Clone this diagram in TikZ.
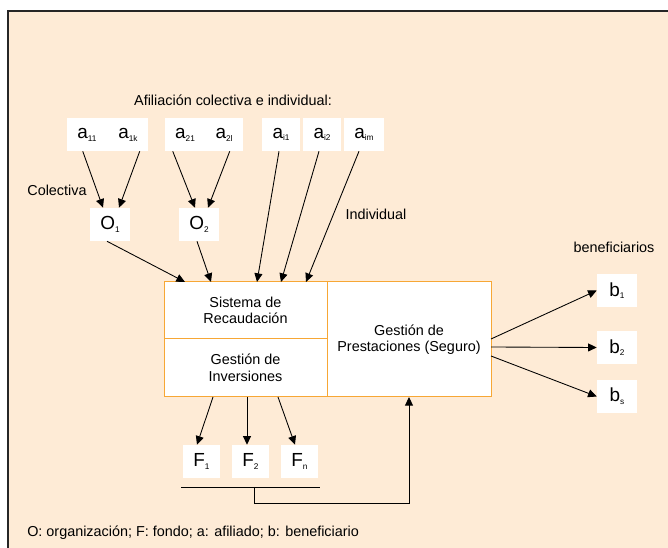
\documentclass[tikz,border=0pt]{standalone}
\usepackage{fontspec}
\setmainfont{Liberation Sans}
\usetikzlibrary{arrows.meta,calc}
\definecolor{bgpeach}{HTML}{FEEBD6}
\definecolor{boxorange}{HTML}{F7A735}
\newcommand\vlab[2]{{\fontsize{14.2}{15}\selectfont #1}\raisebox{-2pt}{\fontsize{6.2}{7}\selectfont #2}}
\begin{document}
\begin{tikzpicture}[x=0.75pt,y=-0.75pt,
  lbl/.style={fill=white,inner sep=0pt,minimum height=24.75pt},
  plain/.style={inner sep=0pt},
  conn/.style={draw=black,line width=0.65pt,-{Triangle[length=6.5pt,width=6pt]}},
  wire/.style={draw=black,line width=0.65pt},
  part/.style={draw=boxorange,fill=white,line width=0.75pt,inner sep=0pt,outer sep=0pt,align=center,font=\fontsize{10.8}{12.4}\selectfont},
  txt/.style={inner sep=0pt,font=\fontsize{10.8}{12.4}\selectfont}]
\useasboundingbox (0,0) rectangle (668,548);
\fill[bgpeach] (8,11) rectangle (668,548);
\draw[line width=1.5pt,black!85] (8,548) -- (8,11) -- (668,11);

% title and labels
\node[txt] (title) at (233,100) {Afiliación colectiva e individual:};
\node[txt] (colectiva) at (57,190) {Colectiva};
\node[txt] (individual) at (376,214) {Individual};
\node[txt] (benef) at (614,247) {beneficiarios};
\node[txt,anchor=west] (footer) at (27,533) {O: organización; F: fondo; a: afiliado; b: beneficiario};

% affiliates
\node[lbl,minimum width=60.75pt] (g1) at (107.5,134.5) {};
\node[plain] (a11) at (87,135) {\vlab{a}{11}};
\node[plain] (a1k) at (128,135) {\vlab{a}{1k}};
\node[lbl,minimum width=58.5pt] (g2) at (204,134.5) {};
\node[plain] (a21) at (185,135) {\vlab{a}{21}};
\node[plain] (a2l) at (224,135) {\vlab{a}{2l}};
\node[lbl,minimum width=28.5pt] (ai1) at (281,134.5) {\vlab{a}{i1}};
\node[lbl,minimum width=28.5pt] (ai2) at (322,134.5) {\vlab{a}{i2}};
\node[lbl,minimum width=30pt] (aim) at (364,134.5) {\vlab{a}{im}};

% organisations
\node[lbl,minimum width=30pt] (O1) at (110,224.5) {\vlab{O}{1}};
\node[lbl,minimum width=30pt] (O2) at (199,224.5) {\vlab{O}{2}};

% central block
\node[part,minimum width=122.25pt,minimum height=42.75pt] (sr) at (245.5,310.5) {Sistema de\\Recaudación};
\node[part,minimum width=122.25pt,minimum height=43.5pt] (gi) at (245.5,368) {Gestión de\\Inversiones};
\node[part,minimum width=123pt,minimum height=86.25pt] (gp) at (409,339.5) {Gestión de\\Prestaciones (Seguro)};

% funds
\node[lbl,minimum width=27.75pt] (F1) at (201.5,461.5) {\vlab{F}{1}};
\node[lbl,minimum width=27.75pt] (F2) at (250.5,461.5) {\vlab{F}{2}};
\node[lbl,minimum width=27.75pt] (Fn) at (299.5,461.5) {\vlab{F}{n}};

% beneficiaries
\node[lbl,minimum width=30pt] (b1) at (617,290.5) {\vlab{b}{1}};
\node[lbl,minimum width=30pt] (b2) at (617,347.5) {\vlab{b}{2}};
\node[lbl,minimum width=30pt] (bs) at (617,396.5) {\vlab{b}{s}};

% collective affiliation arrows
\draw[conn] ($(g1.south west)+(16,0)$) -- ($(O1.north)+(-7,0)$);
\draw[conn] ($(g1.south west)+(73,0)$) -- ($(O1.north)+(9,0)$);
\draw[conn] ($(g2.south west)+(8,0)$) -- ($(O2.north)+(-4,0)$);
\draw[conn] ($(g2.south west)+(65,0)$) -- ($(O2.north)+(9,0)$);

% into the collection system
\draw[conn] ($(O1.south)+(-3,0)$) -- ($(sr.north west)+(21,0)$);
\draw[conn] ($(O2.south)+(-2,0)$) -- ($(sr.north west)+(47,0)$);
\draw[conn] ($(ai1.south)+(-2,0)$) -- ($(sr.north west)+(93,0)$);
\draw[conn] ($(ai2.south)+(-3,0)$) -- ($(sr.north west)+(117,0)$);
\draw[conn] ($(aim.south)+(-5,0)$) -- ($(sr.north west)+(142,0)$);

% to funds
\draw[conn] ($(gi.south west)+(49,0)$) -- ($(F1.north)+(-4.5,0)$);
\draw[conn] ($(gi.south west)+(83,0)$) -- ($(F2.north)+(-3.5,0)$);
\draw[conn] ($(gi.south west)+(114,0)$) -- ($(Fn.north)+(-4.5,0)$);

% funds back to benefits
\coordinate (fl) at (181,487);
\coordinate (fr) at (320,487);
\coordinate (fm) at (254,487);
\draw[wire] (fl) -- (fr);
\draw[conn] (fm) -- ++(0,16) -| (gp.south);

% to beneficiaries
\draw[conn] ($(gp.east)+(0,-0.5)$) -- (b1.west);
\draw[conn] ($(gp.east)+(0,7.5)$) -- (b2.west);
\draw[conn] ($(gp.east)+(0,16.5)$) -- (bs.west);
\end{tikzpicture}
\end{document}
